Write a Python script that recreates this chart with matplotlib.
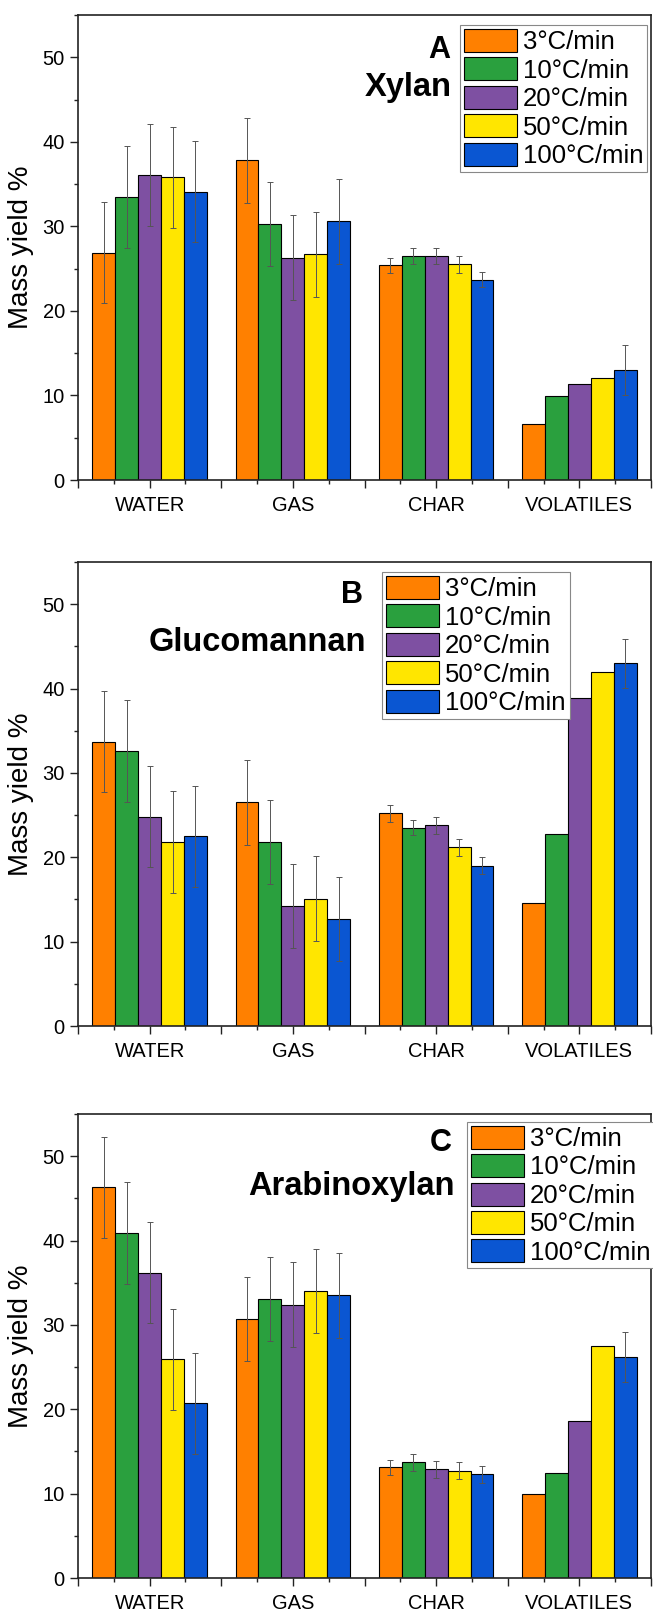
import numpy as np
import matplotlib
matplotlib.use("Agg")
import matplotlib.pyplot as plt
from matplotlib.patches import Patch
from matplotlib.ticker import MultipleLocator, FixedLocator

plt.rcParams['font.family'] = ['Liberation Sans', 'DejaVu Sans']

categories = ['WATER', 'GAS', 'CHAR', 'VOLATILES']
rates = ['3°C/min', '10°C/min', '20°C/min', '50°C/min', '100°C/min']
colors = ['#FF8000', '#2AA03E', '#7E50A2', '#FFE600', '#0A56D2']

nan = np.nan
# rows: heating rates, columns: categories
xylan_vals = [[26.9, 37.8, 25.4, 6.6],
              [33.5, 30.3, 26.5, 9.9],
              [36.1, 26.3, 26.5, 11.4],
              [35.8, 26.7, 25.5, 12.1],
              [34.1, 30.6, 23.7, 13.0]]
xylan_err = [[6.0, 5.0, 0.9, nan],
             [6.0, 5.0, 1.0, nan],
             [6.0, 5.0, 0.9, nan],
             [6.0, 5.0, 1.0, nan],
             [6.0, 5.0, 0.9, 3.0]]

gluco_vals = [[33.7, 26.5, 25.2, 14.6],
              [32.6, 21.8, 23.5, 22.8],
              [24.8, 14.2, 23.8, 38.9],
              [21.8, 15.1, 21.2, 42.0],
              [22.5, 12.7, 19.0, 43.0]]
gluco_err = [[6.0, 5.0, 1.0, nan],
             [6.0, 5.0, 0.9, nan],
             [6.0, 5.0, 1.0, nan],
             [6.0, 5.0, 1.0, nan],
             [6.0, 5.0, 1.0, 2.9]]

arabino_vals = [[46.3, 30.7, 13.1, 10.0],
                [40.9, 33.1, 13.7, 12.4],
                [36.2, 32.4, 12.9, 18.6],
                [25.9, 34.0, 12.7, 27.5],
                [20.7, 33.5, 12.3, 26.2]]
arabino_err = [[6.0, 5.0, 0.9, nan],
               [6.0, 5.0, 1.0, nan],
               [6.0, 5.0, 1.0, nan],
               [6.0, 5.0, 1.0, nan],
               [6.0, 5.0, 1.0, 3.0]]

panels = [
    dict(letter='A', name='Xylan', vals=xylan_vals, err=xylan_err,
         rect=[78, 15, 651, 480], letter_pos=(0.649, 0.925), name_pos=(0.653, 0.845),
         leg=(0.667, 0.978)),
    dict(letter='B', name='Glucomannan', vals=gluco_vals, err=gluco_err,
         rect=[78, 562, 651, 1026], letter_pos=(0.497, 0.929), name_pos=(0.503, 0.826),
         leg=(0.531, 0.978)),
    dict(letter='C', name='Arabinoxylan', vals=arabino_vals, err=arabino_err,
         rect=[78, 1114, 651, 1578], letter_pos=(0.653, 0.9375), name_pos=(0.658, 0.843),
         leg=(0.679, 0.983)),
]

W, H = 653, 1611
fig = plt.figure(figsize=(W / 100, H / 100), dpi=100)
fig.patch.set_facecolor('white')

bar_w = 0.16
x = np.arange(len(categories))

for p in panels:
    l, t, r, b = p['rect']
    ax = fig.add_axes([l / W, 1 - b / H, (r - l) / W, (b - t) / H])
    for i, (vals, errs, c) in enumerate(zip(p['vals'], p['err'], colors)):
        xs = x + (i - 2) * bar_w
        ax.bar(xs, vals, width=bar_w, color=c, edgecolor='black', linewidth=0.8, zorder=2)
        vals_a = np.array(vals)
        errs_a = np.array(errs)
        m = ~np.isnan(errs_a)
        if m.any():
            ax.errorbar(xs[m], vals_a[m], yerr=errs_a[m], fmt='none', ecolor='#555555',
                        elinewidth=0.7, capsize=2.5, capthick=0.7, zorder=3)
    ax.set_xlim(-0.5, 3.5)
    ax.set_ylim(0, 55)
    ax.yaxis.set_major_locator(MultipleLocator(10))
    ax.yaxis.set_minor_locator(MultipleLocator(5))
    ax.xaxis.set_major_locator(FixedLocator(np.arange(-0.5, 3.51, 0.5)))
    ax.xaxis.set_minor_locator(FixedLocator(np.arange(-0.25, 3.5, 0.5)))
    ax.set_xticklabels(['' if abs(v - round(v)) > 0.01 else categories[int(round(v))]
                        for v in np.arange(-0.5, 3.51, 0.5)])
    ax.tick_params(axis='both', which='major', direction='out', length=6, width=1.0,
                   labelsize=14.5, pad=3.5, color='#222222')
    ax.tick_params(axis='x', which='major', pad=5.5)
    ax.tick_params(axis='both', which='minor', direction='out', length=3, width=1.0,
                   color='#222222')
    for s in ax.spines.values():
        s.set_linewidth(1.2)
        s.set_color('#222222')
    ax.set_ylabel('Mass yield %', fontsize=20)
    ax.yaxis.set_label_coords(-0.076, 0.5)
    ax.text(p['letter_pos'][0], p['letter_pos'][1], p['letter'], transform=ax.transAxes,
            ha='right', va='center', fontsize=22, fontweight='bold')
    ax.text(p['name_pos'][0], p['name_pos'][1], p['name'], transform=ax.transAxes,
            ha='right', va='center', fontsize=23.5, fontweight='bold')
    handles = [Patch(facecolor=c, edgecolor='black', linewidth=0.8) for c in colors]
    leg = ax.legend(handles, rates, loc='upper left', bbox_to_anchor=p['leg'],
                    fontsize=18.5, frameon=True, fancybox=False, edgecolor='#888888',
                    framealpha=1, borderaxespad=0, borderpad=0.15, labelspacing=0.12,
                    handlelength=2.05, handleheight=1.0, handletextpad=0.25)
    leg.get_frame().set_linewidth(0.8)

fig.savefig('out.png', dpi=100, facecolor='white')
